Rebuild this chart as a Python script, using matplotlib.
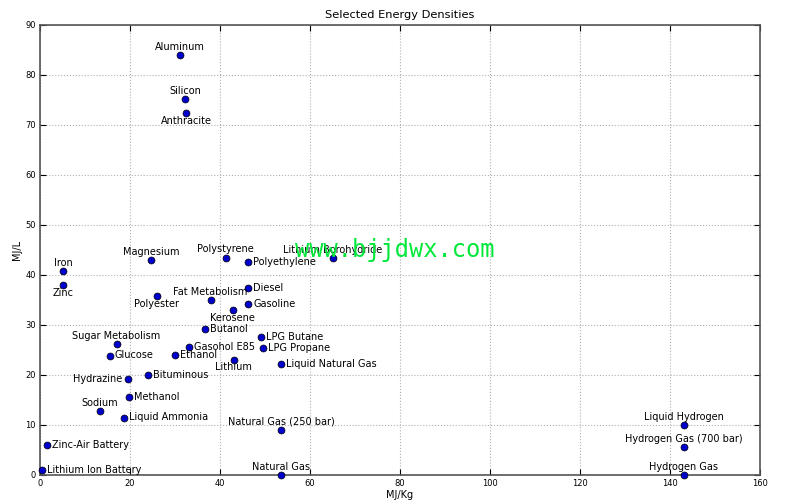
import matplotlib
matplotlib.use("Agg")
from matplotlib import pyplot as plt

names = ["Aluminum", "Silicon", "Anthracite", "Iron", "Zinc", "Magnesium",
         "Polystyrene", "Polyethylene", "Lithium Borohydride", "Fat Metabolism",
         "Diesel", "Gasoline", "Kerosene", "Polyester", "Butanol", "LPG Butane",
         "LPG Propane", "Liquid Natural Gas", "Lithium", "Gasohol E85", "Ethanol",
         "Sugar Metabolism", "Glucose", "Bituminous", "Hydrazine", "Methanol",
         "Sodium", "Liquid Ammonia", "Zinc-Air Battery", "Lithium Ion Battery",
         "Natural Gas (250 bar)", "Natural Gas", "Liquid Hydrogen",
         "Hydrogen Gas (700 bar)", "Hydrogen Gas"]
mj_kg = [31.0, 32.2, 32.5, 5.1, 5.1, 24.7,
         41.3, 46.2, 65.1, 37.9,
         46.2, 46.3, 42.8, 25.9, 36.6, 49.1,
         49.6, 53.6, 43.0, 33.0, 29.9,
         17.0, 15.5, 24.0, 19.5, 19.7,
         13.3, 18.6, 1.5, 0.5,
         53.6, 53.6, 143.0,
         143.0, 143.0]
mj_l = [83.9, 75.1, 72.4, 40.8, 38.0, 43.0,
        43.5, 42.6, 43.4, 35.0,
        37.4, 34.2, 33.0, 35.7, 29.3, 27.7,
        25.4, 22.2, 23.1, 25.7, 24.0,
        26.2, 23.9, 20.1, 19.3, 15.7,
        12.8, 11.5, 6.0, 1.0,
        9.0, 0.0, 10.1,
        5.6, 0.0]
# where the label sits: a=above, b=below, r=right, l=left
side = ["a", "a", "b", "a", "b", "a",
        "a", "r", "a", "a",
        "r", "r", "b", "b", "r", "r",
        "r", "r", "b", "r", "r",
        "a", "r", "r", "l", "r",
        "a", "r", "r", "r",
        "a", "a", "a",
        "a", "a"]

fig = plt.figure(figsize=(8, 5), dpi=100)
ax = fig.add_axes([0.05, 0.05, 0.90, 0.90])
ax.plot(mj_kg, mj_l, "o", color="#0000cc", markeredgecolor="black",
        markeredgewidth=0.5, markersize=5, linestyle="none", clip_on=False, zorder=3)

for n, x, y, s in zip(names, mj_kg, mj_l, side):
    if s == "a":
        off, ha, va = (0, 8), "center", "center"
    elif s == "b":
        off, ha, va = (0, -8), "center", "center"
    elif s == "r":
        off, ha, va = (5, 0), "left", "center"
    else:
        off, ha, va = (-5, 0), "right", "center"
    ax.annotate(n, (x, y), xytext=off, textcoords="offset pixels",
                ha=ha, va=va, fontsize=7.0, color="black")

ax.set_xlim(0, 160)
ax.set_ylim(0, 90)
ax.set_title("Selected Energy Densities", fontsize=8.2, pad=5)
ax.set_xlabel("MJ/Kg", fontsize=7.0, labelpad=1)
ax.set_ylabel("MJ/L", fontsize=7.0, labelpad=2)
ax.grid(True, linestyle=":", color="#b0b0b0", linewidth=0.8)
ax.tick_params(direction="in", labelsize=6, top=True, right=True, length=4, pad=3)
for sp in ax.spines.values():
    sp.set_color("#555555")
    sp.set_linewidth(1.2)

fig.text(0.494, 0.5, "www.bjjdwx.com", color="#00e83a", fontsize=17,
         family="DejaVu Sans Mono", ha="center", va="center")

fig.savefig("out.png", dpi=100)
